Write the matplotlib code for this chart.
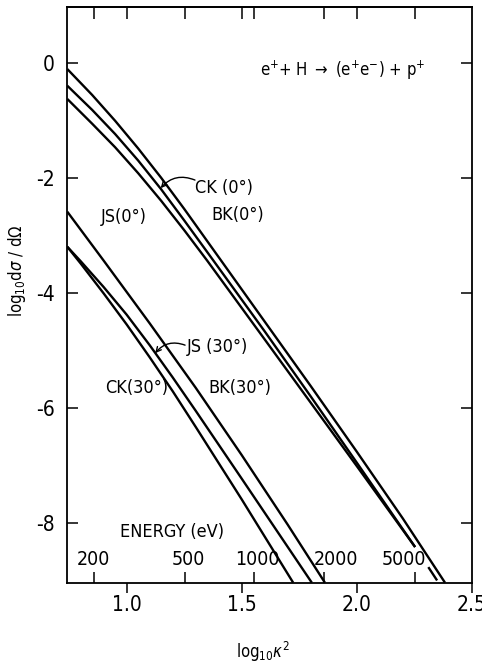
import numpy as np
import matplotlib
matplotlib.use('Agg')
import matplotlib.pyplot as plt
from matplotlib.ticker import NullFormatter

plt.rcParams['font.family'] = ['Liberation Sans Narrow', 'DejaVu Sans']
plt.rcParams['font.stretch'] = 'condensed'
plt.rcParams['mathtext.fontset'] = 'custom'
plt.rcParams['mathtext.rm'] = 'DejaVu Sans:stretch=condensed'
plt.rcParams['mathtext.it'] = 'DejaVu Sans:style=oblique:stretch=condensed'
plt.rcParams['axes.unicode_minus'] = False
plt.rcParams['lines.scale_dashes'] = False

# ---------------- data ----------------
bk0_x = [0.742, 0.85, 0.95, 1.05, 1.15, 1.25, 1.35, 1.6, 1.8, 2.0, 2.2, 2.384]
bk0_y = [-0.10, -0.55, -1.00, -1.48, -1.99, -2.53, -3.09, -4.49, -5.61, -6.75, -7.91, -9.03]

ck0_x = [0.742, 0.85, 0.95, 1.05, 1.15, 1.25, 1.35, 1.6, 1.8, 2.0, 2.254]
ck0_y = [-0.39, -0.81, -1.23, -1.69, -2.19, -2.73, -3.28, -4.66, -5.79, -6.94, -8.41]
ck0_ext_x = [2.254, 2.356]
ck0_ext_y = [-8.41, -9.03]

js0_x = [0.742, 0.85, 0.95, 1.05, 1.15, 1.25, 1.35, 1.6, 1.8, 2.0, 2.254]
js0_y = [-0.62, -1.05, -1.46, -1.91, -2.39, -2.90, -3.43, -4.80, -5.90, -7.00, -8.41]

bk30_x = [0.742, 0.9, 1.1, 1.3, 1.5, 1.7, 1.862]
bk30_y = [-2.58, -3.43, -4.52, -5.64, -6.81, -8.02, -9.03]

ck30_x = [0.742, 0.8, 0.9, 1.0, 1.1, 1.2, 1.3, 1.5, 1.724]
ck30_y = [-3.19, -3.48, -4.00, -4.54, -5.11, -5.70, -6.32, -7.58, -9.03]

js30_x = [0.742, 0.8, 0.9, 1.0, 1.1, 1.2, 1.3, 1.5, 1.805]
js30_y = [-3.19, -3.44, -3.89, -4.37, -4.90, -5.46, -6.04, -7.22, -9.03]

x_ticks = [1.0, 1.5, 2.0, 2.5]
x_ticklabels = ['1.0', '1.5', '2.0', '2.5']
y_ticks = [0, -2, -4, -6, -8]
y_ticklabels = ['0', '-2', '-4', '-6', '-8']
energies = [200, 500, 1000, 2000, 5000]
energy_labels = ['200', '500', '1000', '2000', '5000']
energy_label_nudge_px = [0, 3, 3, 12, -11]
log_energy_offset = 1.445   # log10(kappa^2) = log10(E) - offset

energy_x = [np.log10(e) - log_energy_offset for e in energies]

# ---------------- figure ----------------
W, H = 482, 671
fig = plt.figure(figsize=(W / 100, H / 100), dpi=100)
L, R, B, T = 67.3, 471.7, 582.7, 6.7
ax = fig.add_axes([L / W, 1 - B / H, (R - L) / W, (B - T) / H])
ax.set_xlim(0.742, 2.5)
ax.set_ylim(-9.03, 0.984)

lw = 1.7
for xs, ys in [(bk0_x, bk0_y), (ck0_x, ck0_y), (js0_x, js0_y),
               (bk30_x, bk30_y), (ck30_x, ck30_y), (js30_x, js30_y)]:
    ax.plot(xs, ys, color='black', lw=lw, solid_capstyle='butt',
            solid_joinstyle='round')
ax.plot(ck0_ext_x, ck0_ext_y, color='black', lw=lw,
        linestyle=(11.5, (11.5, 17.3)), dash_capstyle='butt')

# ticks
ax.set_xticks(x_ticks)
ax.set_xticklabels(x_ticklabels)
ax.set_xticks(energy_x, minor=True)
ax.set_yticks(y_ticks)
ax.set_yticklabels(y_ticklabels)
ax.tick_params(axis='x', which='major', direction='out', length=7.5, width=1.1,
               pad=1, labelsize=15, top=False)
ax.tick_params(axis='x', which='minor', direction='in', length=8, width=1.1, top=False)
ax.tick_params(axis='y', which='major', direction='in', length=8, width=1.1,
               left=True, right=True, labelsize=15, pad=9)
for s in ax.spines.values():
    s.set_linewidth(1.3)

sec = ax.secondary_xaxis('top')
sec.set_xticks(list(x_ticks[:-1]) + energy_x)
sec.xaxis.set_major_formatter(NullFormatter())
sec.tick_params(direction='in', length=8.5, width=1.1)
sec.spines['top'].set_linewidth(1.3)

# energy labels
ax.text(1.197, -8.15, 'ENERGY (eV)', ha='center', va='center', fontsize=13)
for xe, lab, nud in zip(energy_x, energy_labels, energy_label_nudge_px):
    ax.annotate(lab, xy=(xe, -8.63), xytext=(nud * 0.72, 0),
                textcoords='offset points', ha='center', va='center', fontsize=14)

# curve labels
fs = 13
ax.text(1.423, -2.17, 'CK (0°)', ha='center', va='center', fontsize=fs)
ax.text(0.989, -2.67, 'JS(0°)', ha='center', va='center', fontsize=fs)
ax.text(1.484, -2.64, 'BK(0°)', ha='center', va='center', fontsize=fs)
ax.text(1.393, -4.93, 'JS (30°)', ha='center', va='center', fontsize=fs)
ax.text(1.045, -5.65, 'CK(30°)', ha='center', va='center', fontsize=fs)
ax.text(1.493, -5.65, 'BK(30°)', ha='center', va='center', fontsize=fs)

arrow = dict(arrowstyle='->', lw=1.0, color='black', shrinkA=0, shrinkB=0,
             connectionstyle='arc3,rad=0.35', mutation_scale=9)
ax.annotate('', xy=(1.148, -2.17), xytext=(1.297, -2.03), arrowprops=arrow)
ax.annotate('', xy=(1.124, -5.04), xytext=(1.254, -4.90), arrowprops=arrow)

ax.text(1.941, -0.12, r'e$^{+}$+ H $\rightarrow$ (e$^{+}$e$^{-}$) + p$^{+}$',
        ha='center', va='center', fontsize=12)

fig.text(17 / W, 1 - 271 / H, r'log$_{10}$d$\sigma$ / d$\Omega$', rotation=90,
         ha='center', va='center', fontsize=12)
fig.text(263 / W, 1 - 652 / H, r'log$_{10}\kappa^{2}$', ha='center', va='center',
         fontsize=12)

fig.savefig('out.png', dpi=100)
